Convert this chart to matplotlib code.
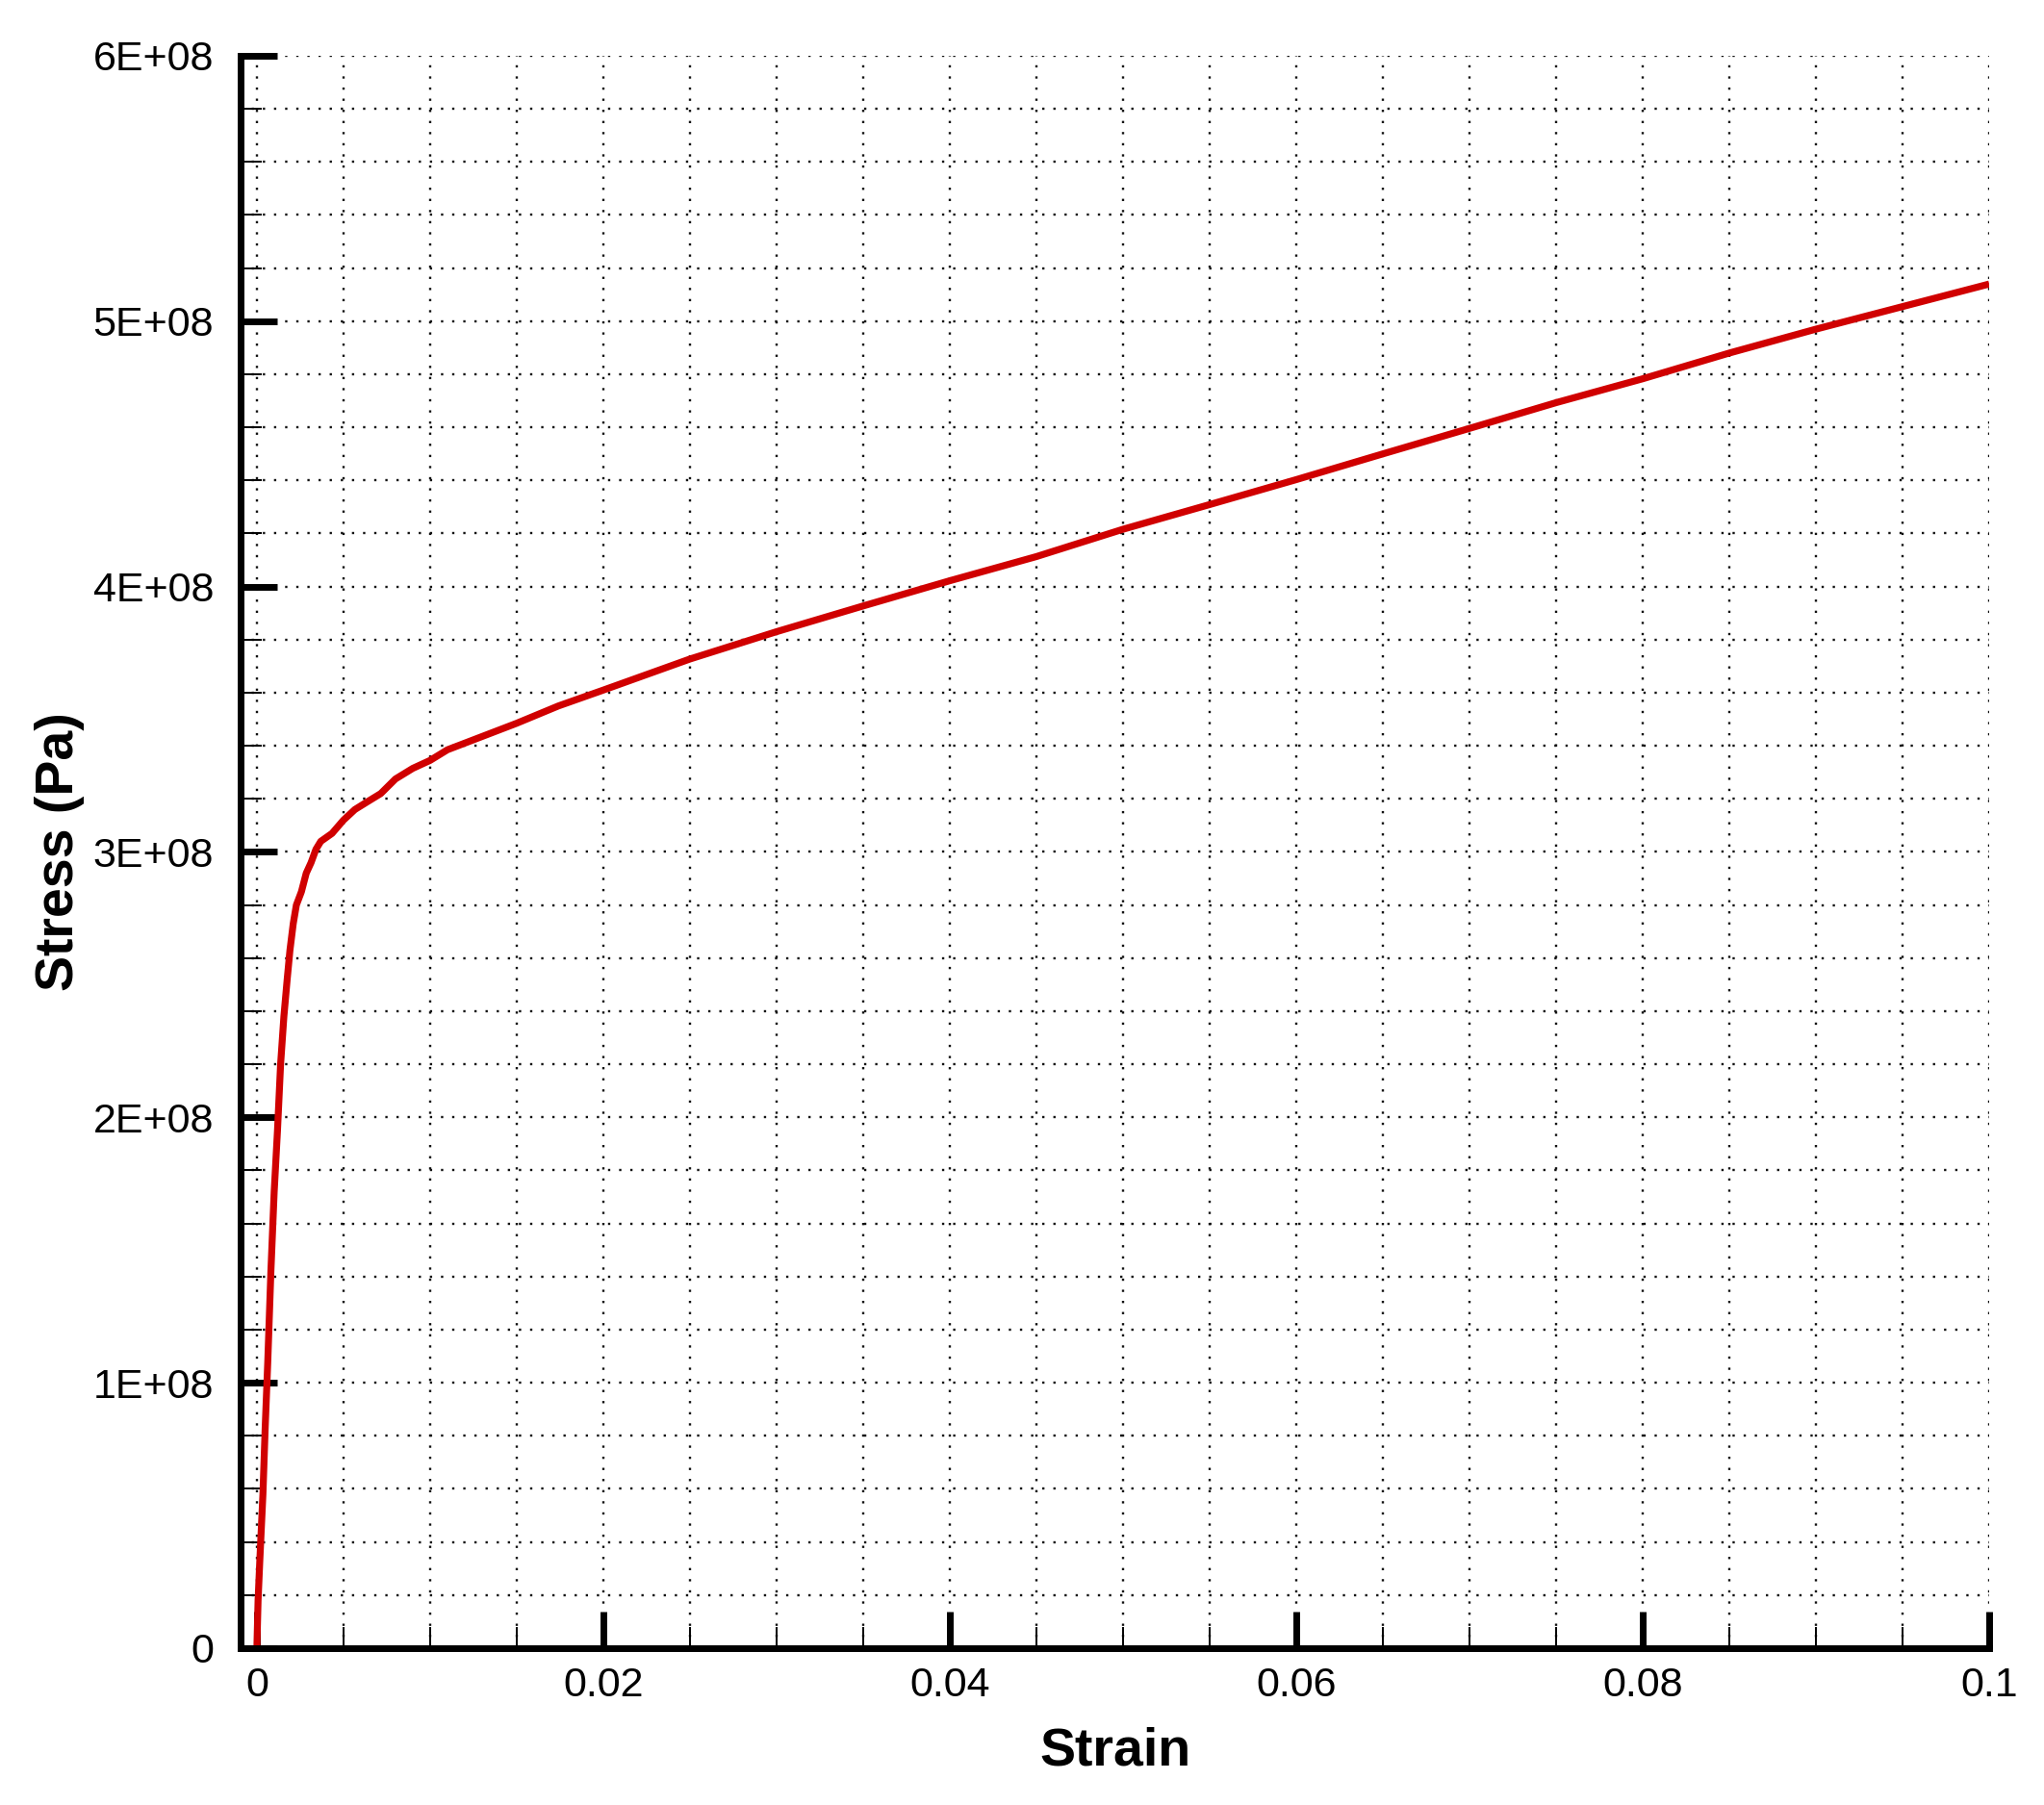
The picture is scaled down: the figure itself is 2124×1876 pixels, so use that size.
import matplotlib
matplotlib.use("Agg")
import matplotlib.pyplot as plt
from matplotlib.ticker import FixedLocator, MultipleLocator
from matplotlib import font_manager

# ---- data ----
strain = [0, 0.00007, 0.00017, 0.00035, 0.00048, 0.00063, 0.00081, 0.0010,
          0.00119, 0.00137, 0.00156, 0.00175, 0.00191, 0.0021, 0.00228,
          0.00257, 0.00285, 0.00313, 0.00341, 0.00369, 0.00434, 0.0050,
          0.00566, 0.0064, 0.00715, 0.0080, 0.0090, 0.0100, 0.0110, 0.0124,
          0.0140, 0.0150, 0.0174, 0.0200, 0.0250, 0.0300, 0.0350, 0.0400,
          0.0450, 0.0500, 0.0550, 0.0600, 0.0650, 0.0700, 0.0750, 0.0800,
          0.0850, 0.0900, 0.0950, 0.1000]
stress_e8 = [0, 0.18, 0.33, 0.58, 0.83, 1.08, 1.42, 1.72, 1.95, 2.20, 2.38,
             2.52, 2.63, 2.73, 2.80, 2.85, 2.92, 2.96, 3.01, 3.04, 3.07, 3.12,
             3.16, 3.19, 3.22, 3.275, 3.315, 3.345, 3.385, 3.42, 3.46, 3.485,
             3.55, 3.61, 3.727, 3.83, 3.927, 4.022, 4.113, 4.216, 4.309,
             4.403, 4.50, 4.596, 4.693, 4.783, 4.88, 4.97, 5.055, 5.14]
stress = [v * 1e8 for v in stress_e8]

x_ticks = [0, 0.02, 0.04, 0.06, 0.08, 0.1]
x_tick_labels = ["0", "0.02", "0.04", "0.06", "0.08", "0.1"]
y_ticks = [0, 1e8, 2e8, 3e8, 4e8, 5e8, 6e8]
y_tick_labels = ["0", "1E+08", "2E+08", "3E+08", "4E+08", "5E+08", "6E+08"]
x_title = "Strain"
y_title = "Stress (Pa)"

# ---- fonts ----
names = {f.name for f in font_manager.fontManager.ttflist}
tick_family = ["Liberation Sans Narrow"] if "Liberation Sans Narrow" in names else ["Liberation Sans"]
title_family = ["Liberation Sans"]

fig = plt.figure(figsize=(10.62, 9.38), dpi=200)
ax = fig.add_axes([0.1177, 0.0869, 0.8555, 0.8822])

ax.plot(strain, stress, color="#d00000", lw=2.6, zorder=3, solid_capstyle="butt")

ax.set_xlim(-0.00094, 0.1)
ax.set_ylim(0, 6e8)

ax.xaxis.set_major_locator(FixedLocator(x_ticks))
ax.yaxis.set_major_locator(FixedLocator(y_ticks))
ax.xaxis.set_minor_locator(MultipleLocator(0.005))
ax.yaxis.set_minor_locator(MultipleLocator(2e7))
ax.set_xticklabels(x_tick_labels, family=tick_family, fontsize=15.5)
ax.set_yticklabels(y_tick_labels, family=tick_family, fontsize=15.5)

ax.set_axisbelow(True)
ax.grid(True, which="both", color="#111111", lw=0.85, linestyle=(0, (1, 3.9)))

for s in ["top", "right"]:
    ax.spines[s].set_visible(False)
for s in ["left", "bottom"]:
    ax.spines[s].set_linewidth(2.5)
    ax.spines[s].set_zorder(4)

ax.tick_params(which="major", direction="in", length=13.7, width=2.5, color="black")
ax.tick_params(which="minor", direction="in", length=8, width=0.7, color="black")
ax.tick_params(axis="y", which="major", pad=10)
ax.tick_params(axis="x", which="major", pad=7)

ax.set_xlabel(x_title, family=title_family, fontsize=20, fontweight="bold")
ax.set_ylabel(y_title, family=title_family, fontsize=20, fontweight="bold")
ax.xaxis.set_label_coords(0.5, -0.065)
ax.xaxis.label.set_va("center")
ax.yaxis.set_label_coords(-0.1035, 0.5)
ax.yaxis.label.set_va("center")

fig.savefig("out.png", dpi=200)
